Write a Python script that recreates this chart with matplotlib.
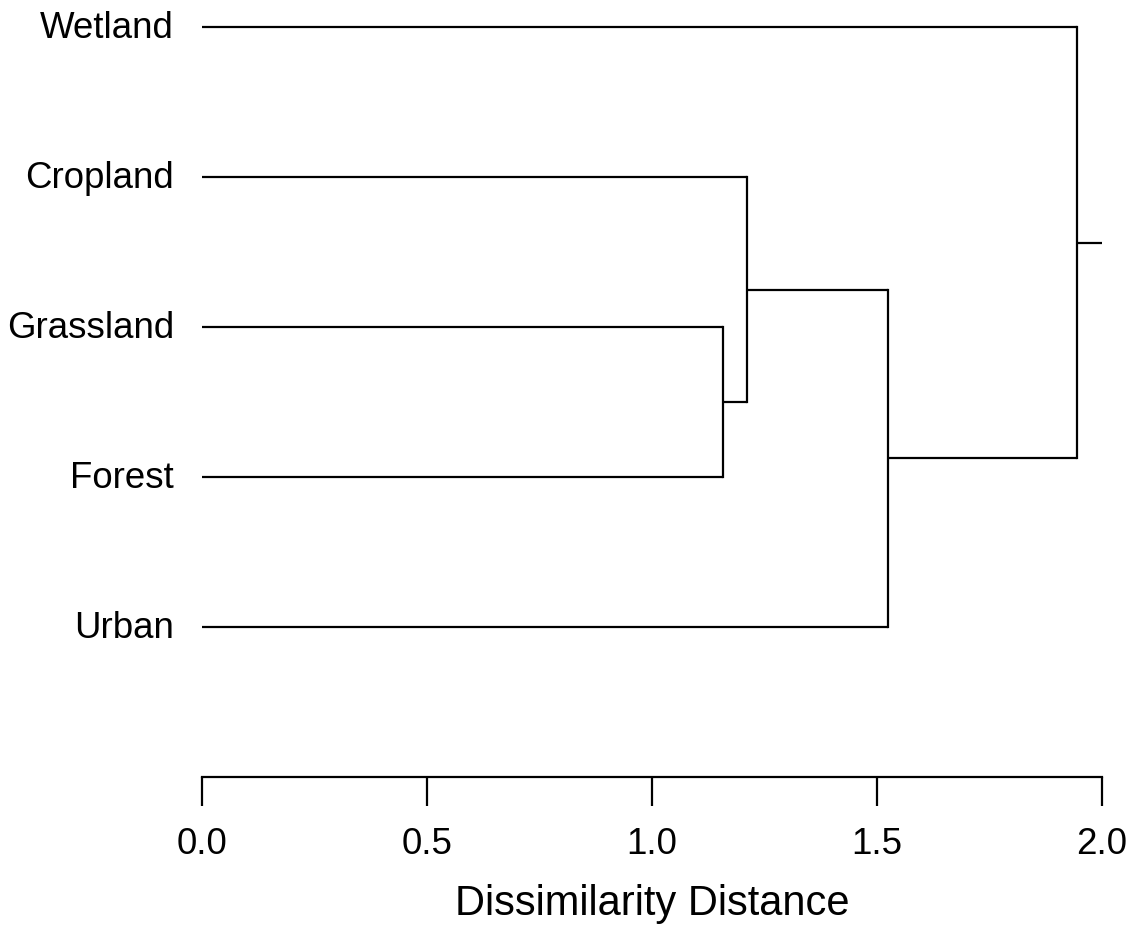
import matplotlib.pyplot as plt

# Leaves from top to bottom, and the merge steps of the clustering
LEAVES = ['Wetland', 'Cropland', 'Grassland', 'Forest', 'Urban']
MERGES = [('Grassland', 'Forest'), ('Cropland', 0), ('Urban', 1), ('Wetland', 2)]
HEIGHTS = [1.158, 1.211, 1.524, 1.944]
ROOT_END = 2.0

plt.rcParams['font.family'] = ['Liberation Sans', 'DejaVu Sans']

fig = plt.figure(figsize=(11.43, 9.28), dpi=100)
ax = fig.add_axes([202 / 1143, 150 / 928, 900 / 1143, 768 / 928])

n = len(LEAVES)
ypos = {name: n - i for i, name in enumerate(LEAVES)}
xpos = {name: 0.0 for name in LEAVES}

lw = 1.6
for k, (a, b) in enumerate(MERGES):
    h = HEIGHTS[k]
    ya, yb = ypos[a], ypos[b]
    xa, xb = xpos[a], xpos[b]
    ax.plot([xa, h], [ya, ya], color='black', lw=lw, solid_capstyle='butt')
    ax.plot([xb, h], [yb, yb], color='black', lw=lw, solid_capstyle='butt')
    ax.plot([h, h], [ya, yb], color='black', lw=lw, solid_capstyle='projecting')
    ypos[k] = (ya + yb) / 2
    xpos[k] = h

root = len(MERGES) - 1
ax.plot([xpos[root], ROOT_END], [ypos[root], ypos[root]], color='black', lw=lw,
        clip_on=False, solid_capstyle='butt')

for name in LEAVES:
    ax.text(-0.062, ypos[name], name, ha='right', va='center', fontsize=26.4)

ax.set_xlim(0, 2)
ax.set_ylim(0.0, 5.12)
ax.set_xticks([0.0, 0.5, 1.0, 1.5, 2.0])
ax.set_xticklabels(['0.0', '0.5', '1.0', '1.5', '2.0'])
ax.tick_params(axis='x', length=21, width=lw, labelsize=26.5, pad=14)
ax.set_yticks([])
for s in ['top', 'right', 'left']:
    ax.spines[s].set_visible(False)
ax.spines['bottom'].set_linewidth(lw)
ax.set_xlabel('Dissimilarity Distance', fontsize=30, labelpad=16)

fig.savefig('out.png', dpi=100)
